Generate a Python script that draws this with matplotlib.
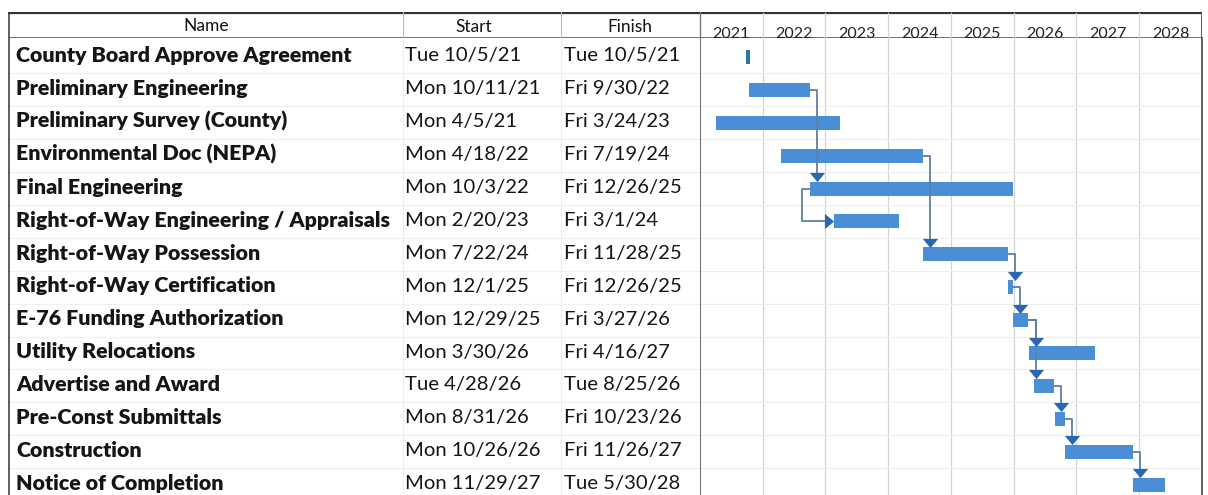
#Gantt chart of the county project schedule with a task table on the left
import matplotlib
matplotlib.use('Agg')
import matplotlib.pyplot as plt
import matplotlib.dates as mdates
from datetime import datetime

plt.rcParams['font.family'] = ['Lato', 'DejaVu Sans']

names = ['County Board Approve Agreement', 'Preliminary Engineering', 'Preliminary Survey (County)',
         'Environmental Doc (NEPA)', 'Final Engineering', 'Right-of-Way Engineering / Appraisals',
         'Right-of-Way Possession', 'Right-of-Way Certification', 'E-76 Funding Authorization',
         'Utility Relocations', 'Advertise and Award', 'Pre-Const Submittals', 'Construction',
         'Notice of Completion']
starts = ['Tue 10/5/21', 'Mon 10/11/21', 'Mon 4/5/21', 'Mon 4/18/22', 'Mon 10/3/22', 'Mon 2/20/23',
          'Mon 7/22/24', 'Mon 12/1/25', 'Mon 12/29/25', 'Mon 3/30/26', 'Tue 4/28/26', 'Mon 8/31/26',
          'Mon 10/26/26', 'Mon 11/29/27']
finishes = ['Tue 10/5/21', 'Fri 9/30/22', 'Fri 3/24/23', 'Fri 7/19/24', 'Fri 12/26/25', 'Fri 3/1/24',
            'Fri 11/28/25', 'Fri 12/26/25', 'Fri 3/27/26', 'Fri 4/16/27', 'Tue 8/25/26', 'Fri 10/23/26',
            'Fri 11/26/27', 'Tue 5/30/28']
years = [2021, 2022, 2023, 2024, 2025, 2026, 2027, 2028]
# (predecessor row, successor row, link type)
links = [(1, 4, 'FS'), (3, 6, 'FS'), (4, 5, 'SS'), (6, 7, 'FS'), (7, 8, 'FS'), (8, 9, 'FS'),
         (8, 10, 'FS'), (10, 11, 'FS'), (11, 12, 'FS'), (12, 13, 'FS')]


def to_num(s):
    return mdates.date2num(datetime.strptime(s.split()[1], '%m/%d/%y'))


start_num = [to_num(s) for s in starts]
end_num = [to_num(f) + 1 for f in finishes]

W, H = 1208, 495
ROW = 32.9  # pixels per row


def fr(x0, y0, x1, y1):
    return [x0 / W, (H - y1) / H, (x1 - x0) / W, (y1 - y0) / H]


fig = plt.figure(figsize=(W / 100, H / 100), dpi=100)

ytop = -0.5 - (40.5 - 38) / ROW
ybot = ytop + (H - 38) / ROW
n = len(names)

# table part
tab = fig.add_axes(fr(8, 38, 700, H))
tab.set_xlim(8, 700)
tab.set_ylim(ybot, ytop)
tab.axis('off')
for i in range(n):
    tab.text(16, i - 0.04, names[i], fontsize=15.4, fontweight='heavy', va='center', ha='left', color='#151515')
    tab.text(405, i - 0.03, starts[i], fontsize=14.6, va='center', ha='left', color='#151515')
    tab.text(564, i - 0.03, finishes[i], fontsize=14.6, va='center', ha='left', color='#151515')
for i in range(n):
    tab.axhline(i + 0.5, color='#f0f0f0', lw=0.8)
for xs in [403, 561]:
    tab.axvline(xs, color='#eeeeee', lw=0.8)
tab.axvline(8.5, color='#444444', lw=1.2)

# header
hdr = fig.add_axes(fr(8, 12, 1202, 38))
hdr.set_xlim(8, 1202)
hdr.set_ylim(38, 12)
hdr.axis('off')
hdr.axhline(12.8, color='#333333', lw=1.6)
hdr.axhline(37.5, color='#555555', lw=1.2)
hdr.axvline(8.5, color='#444444', lw=1.2)
hdr.axvline(1201.5, color='#444444', lw=1.2)
for xs in [403, 561]:
    hdr.axvline(xs, color='#bbbbbb', lw=0.8)
hdr.axvline(700, color='#777777', lw=1.0)
hdr.text(206, 26, 'Name', fontsize=12.5, ha='center', va='center', color='#111111')
hdr.text(474, 27, 'Start', fontsize=12.5, ha='center', va='center', color='#111111')
hdr.text(630, 27, 'Finish', fontsize=12.5, ha='center', va='center', color='#111111')

# gantt part
ax = fig.add_axes(fr(700, 38, 1202, H))
x0 = mdates.date2num(datetime(years[0], 1, 1))
x1 = mdates.date2num(datetime(years[-1] + 1, 1, 1))
ax.set_xlim(x0, x1)
ax.set_ylim(ybot, ytop)
for sp in ax.spines.values():
    sp.set_visible(False)
ax.spines['left'].set_visible(True)
ax.spines['left'].set_color('#777777')
ax.spines['right'].set_visible(True)
ax.spines['right'].set_color('#444444')
ax.spines['right'].set_linewidth(1.2)
ax.set_yticks([])
mids = [mdates.date2num(datetime(y, 7, 2)) for y in years]
ax.set_xticks(mids)
ax.set_xticklabels([str(y) for y in years], fontsize=11.5, color='#222222')
ax.xaxis.tick_top()
ax.tick_params(axis='x', length=0, pad=-2.5)
for y in years[1:]:
    ax.axvline(mdates.date2num(datetime(y, 1, 1)), ymax=1 + 25 / (H - 38), clip_on=False,
               color='#d4d4d4', lw=0.9, zorder=0)
for i in range(n):
    ax.axhline(i + 0.5, color='#eeeeee', lw=0.8, zorder=0)

px_day = (W - 8 - 700) / (x1 - x0)  # pixels per day
bar_h = 14 / ROW
for i in range(n):
    w = end_num[i] - start_num[i]
    if starts[i] == finishes[i]:
        # milestone style mark
        mw = 4 / px_day
        ax.barh(i, mw, left=start_num[i] - mw / 2, height=bar_h, color='#2b7a98', zorder=3)
    else:
        ax.barh(i, w, left=start_num[i], height=bar_h, color='#4a8fd6', zorder=3)

line_c = '#5f7fa3'
head_c = '#2767b3'
off = 7 / px_day
down_head = [(-1, 0.6), (1, 0.6), (0, -0.6)]
right_head = [(-0.6, 1), (-0.6, -1), (0.6, 0)]
for p, s, kind in links:
    if kind == 'FS':
        xv = end_num[p] + off
        ytip = s - bar_h / 2
        ax.plot([end_num[p], xv, xv], [p, p, ytip - 4 / ROW], color=line_c, lw=1.3, zorder=4)
        ax.plot([xv], [ytip - 4.5 / ROW], marker=down_head, markersize=11, color=head_c,
                markeredgewidth=0, zorder=5)
    else:
        xv = start_num[p] - 1.2 * off
        ax.plot([start_num[p], xv, xv, start_num[s] - 4 / px_day], [p, p, s, s], color=line_c, lw=1.3, zorder=4)
        ax.plot([start_num[s] - 4.5 / px_day], [s], marker=right_head, markersize=11, color=head_c,
                markeredgewidth=0, zorder=5)

fig.savefig('out.png', dpi=100)
